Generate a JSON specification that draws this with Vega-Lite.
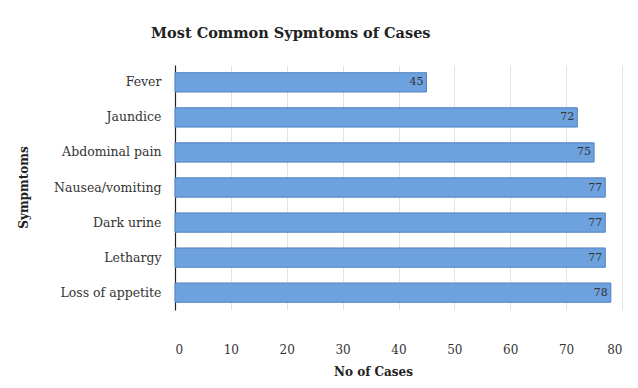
{
  "$schema": "https://vega.github.io/schema/vega-lite/v6.json",
  "width": 447,
  "height": 245,
  "autosize": {"type": "none"},
  "padding": {"left": 175, "top": 65, "right": 16, "bottom": 78},
  "background": "white",
  "title": {
    "text": "Most Common Sypmtoms of Cases",
    "frame": "group",
    "anchor": "start",
    "dx": -24,
    "offset": 24,
    "font": "DejaVu Serif",
    "fontSize": 14.5,
    "fontWeight": "bold",
    "color": "#222"
  },
  "data": {
    "values": [
      {"symptom": "Fever", "cases": 45},
      {"symptom": "Jaundice", "cases": 72},
      {"symptom": "Abdominal pain", "cases": 75},
      {"symptom": "Nausea/vomiting", "cases": 77},
      {"symptom": "Dark urine", "cases": 77},
      {"symptom": "Lethargy", "cases": 77},
      {"symptom": "Loss of appetite", "cases": 78}
    ]
  },
  "encoding": {
    "y": {
      "field": "symptom",
      "type": "nominal",
      "sort": null,
      "scale": {"paddingInner": 0.45, "paddingOuter": 0.22},
      "axis": {
        "title": "Sympmtoms",
        "titleFont": "DejaVu Serif",
        "titleFontSize": 12,
        "titleFontWeight": "bold",
        "titleColor": "#222",
        "titleX": -152,
        "titleY": 122,
        "titleAngle": -90,
        "titleAlign": "center",
        "titleBaseline": "middle",
        "labelFont": "DejaVu Serif",
        "labelFontSize": 12.5,
        "labelColor": "#333",
        "labelPadding": 14,
        "ticks": false,
        "domainColor": "#222",
        "domainWidth": 1.2,
        "grid": false
      }
    },
    "x": {
      "field": "cases",
      "type": "quantitative",
      "scale": {"domain": [0, 80], "nice": false},
      "axis": {
        "title": "No of Cases",
        "titleFont": "DejaVu Serif",
        "titleFontSize": 12,
        "titleFontWeight": "bold",
        "titleColor": "#222",
        "titleX": 198,
        "titleAlign": "center",
        "titlePadding": 11,
        "values": [0, 10, 20, 30, 40, 50, 60, 70, 80],
        "labelFont": "DejaVu Serif",
        "labelFontSize": 12,
        "labelColor": "#333",
        "labelPadding": 34,
        "ticks": false,
        "domain": false,
        "grid": true,
        "gridColor": "#e2e2e2",
        "gridWidth": 1
      }
    }
  },
  "layer": [
    {
      "mark": {"type": "bar", "fill": "#6ea2df", "stroke": "#4f80c0", "strokeWidth": 1}
    },
    {
      "mark": {"type": "text", "align": "right", "baseline": "middle", "dx": -3, "font": "DejaVu Serif", "fontSize": 11, "color": "#333"},
      "encoding": {"text": {"field": "cases", "type": "quantitative"}}
    }
  ],
  "config": {"view": {"stroke": null}, "font": "DejaVu Serif"}
}
